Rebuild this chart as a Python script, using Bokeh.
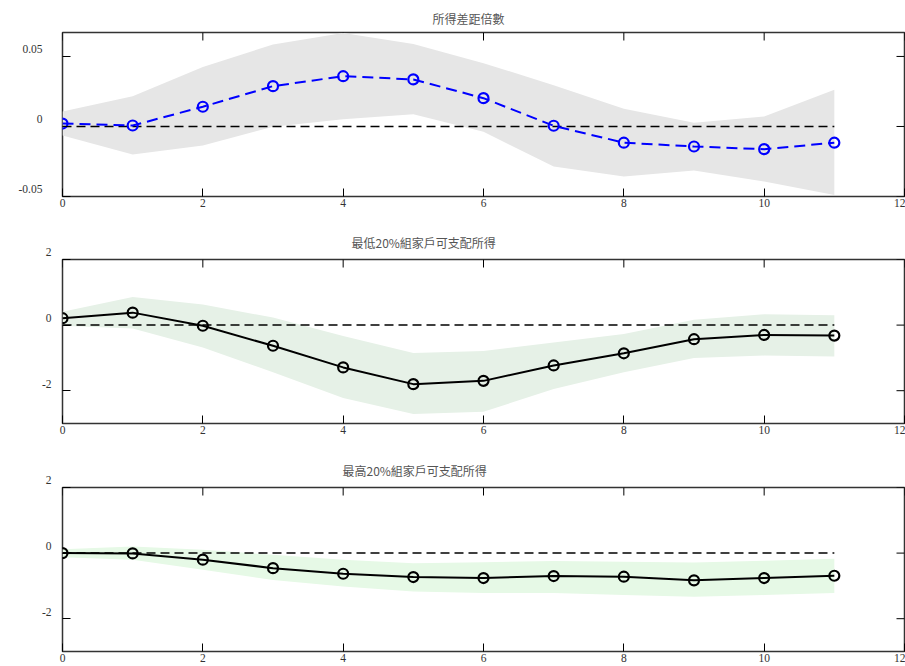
import math
from bokeh.plotting import figure
from bokeh.layouts import column
from bokeh.models import FixedTicker
from bokeh.embed import file_html
from bokeh.resources import INLINE

# ---------------- data ----------------
steps = [0, 1, 2, 3, 4, 5, 6, 7, 8, 9, 10, 11]
baseline = [0, 0, 0, 0, 0, 0, 0, 0, 0, 0, 0, 0]
x_ticks = [0, 2, 4, 6, 8, 10, 12]

ratio_title = "所得差距倍數"
ratio_resp = [0.0021, 0.0007, 0.0141, 0.0288, 0.0359, 0.0336, 0.0202, 0.0005, -0.0116, -0.0143, -0.0162, -0.0116]
ratio_upper = [0.0107, 0.0216, 0.0424, 0.0586, 0.0668, 0.0588, 0.0452, 0.0295, 0.0126, 0.0026, 0.0071, 0.0262]
ratio_lower = [-0.0064, -0.0200, -0.0136, -0.0002, 0.0052, 0.0088, -0.0038, -0.0286, -0.0357, -0.0314, -0.0393, -0.0490]
ratio_ticks = [-0.05, 0, 0.05]
ratio_tick_labels = ["-0.05", "0", "0.05"]

low_title = "最低20%組家戶可支配所得"
low_resp = [0.21, 0.38, -0.02, -0.63, -1.29, -1.80, -1.70, -1.23, -0.86, -0.43, -0.30, -0.32]
low_upper = [0.41, 0.86, 0.63, 0.23, -0.33, -0.85, -0.79, -0.53, -0.27, 0.16, 0.33, 0.30]
low_lower = [-0.02, -0.10, -0.68, -1.44, -2.22, -2.71, -2.64, -1.95, -1.44, -1.00, -0.93, -0.96]

high_title = "最高20%組家戶可支配所得"
high_resp = [0.00, -0.01, -0.20, -0.46, -0.63, -0.73, -0.76, -0.70, -0.72, -0.83, -0.76, -0.69]
high_upper = [0.12, 0.20, 0.10, -0.05, -0.20, -0.31, -0.28, -0.24, -0.26, -0.29, -0.23, -0.17]
high_lower = [-0.13, -0.20, -0.51, -0.82, -1.02, -1.17, -1.22, -1.22, -1.28, -1.33, -1.28, -1.22]

level_ticks = [-2, 0, 2]
level_tick_labels = ["-2", "0", "2"]

SERIF = "Liberation Serif"
CJK = "Noto Sans CJK TC"
X_END = 12


def make_panel(title, resp, upper, lower, y_range, yticks, ylabels,
               band_color, line_color, line_dash, height, top, bottom,
               title_offset, title_standoff, ylab_standoff):
    p = figure(width=905, height=height, x_range=(0, X_END), y_range=y_range,
               toolbar_location=None, output_backend="svg",
               min_border_left=62, min_border_right=1,
               min_border_top=top, min_border_bottom=bottom,
               background_fill_color="white", border_fill_color="white")
    p.grid.visible = False
    p.outline_line_color = "#333333"
    p.outline_line_width = 1.5

    p.title.text = title
    p.title.text_font = CJK
    p.title.text_font_size = "12px"
    p.title.text_font_style = "normal"
    p.title.text_color = "#555555"
    p.title.align = "left"
    p.title.offset = title_offset
    p.title.standoff = title_standoff

    xa = p.xaxis[0]
    xa.ticker = FixedTicker(ticks=x_ticks)
    ya = p.yaxis[0]
    ya.ticker = FixedTicker(ticks=yticks)
    ya.major_label_overrides = {v: lab + "\n" for v, lab in zip(yticks, ylabels)}
    ya.major_label_standoff = ylab_standoff
    for ax in (xa, ya):
        ax.axis_line_color = None
        ax.major_tick_in = 8
        ax.major_tick_out = 0
        ax.major_tick_line_color = "black"
        ax.minor_tick_line_color = None
        ax.major_label_text_font = SERIF
        ax.major_label_text_font_size = "11.5px"
        ax.major_label_text_color = "#333333"
    xa.major_label_standoff = 2

    # inward ticks on the top and right edges of the box
    y_top = y_range[1]
    p.ray(x=x_ticks, y=[y_top] * len(x_ticks), length=8, length_units="screen",
          angle=-math.pi / 2, line_color="black", line_width=1)
    p.ray(x=[X_END] * len(yticks), y=yticks, length=8, length_units="screen",
          angle=math.pi, line_color="black", line_width=1)

    p.varea(x=steps, y1=lower, y2=upper, fill_color=band_color, fill_alpha=1.0)
    p.line(steps, baseline, line_color="black", line_width=1.5, line_dash="9 5")
    p.line(steps, resp, line_color=line_color, line_width=2, line_dash=line_dash)
    p.scatter(steps, resp, marker="circle", size=10, fill_color=None,
              line_color=line_color, line_width=2.2)
    return p


p1 = make_panel(ratio_title, ratio_resp, ratio_upper, ratio_lower, (-0.05, 0.0671),
                ratio_ticks, ratio_tick_labels, "#e6e6e6", "#0000ff", "11 6",
                222, 32, 26, 370, 12, 20)
p2 = make_panel(low_title, low_resp, low_upper, low_lower, (-3, 2),
                level_ticks, level_tick_labels, "#e6f1e7", "black", "solid",
                227, 37, 26, 289, 17, 11)
p3 = make_panel(high_title, high_resp, high_upper, high_lower, (-3, 2),
                level_ticks, level_tick_labels, "#e6f9e6", "black", "solid",
                217, 38, 15, 280, 18, 11)

layout = column(p1, p2, p3, spacing=0)
open("out.html", "w").write(file_html(layout, INLINE))
